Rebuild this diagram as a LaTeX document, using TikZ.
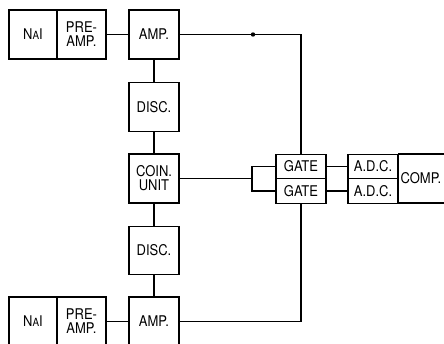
\documentclass[tikz,border=0pt]{standalone}
\usepackage{fontspec}
\setsansfont{TeX Gyre Heros}[FakeStretch=0.88]
\newcommand{\blkfont}{\sffamily\fontsize{10.5}{10}\selectfont}
\begin{document}
\begin{tikzpicture}[x=0.025cm,y=-0.025cm,line width=0.8pt,
    blk/.style={draw,minimum width=1.25cm,minimum height=1.225cm,inner sep=1pt,
      font=\blkfont,align=center},
    half/.style={draw,minimum width=1.25cm,minimum height=0.62cm,inner sep=1pt,
      font=\blkfont}]
    \useasboundingbox (0,0) rectangle (444,343);
    \clip (0,0) rectangle (444,343);
    % upper channel
    \node[blk,minimum width=1.2cm] (naiA) at (33,34.5) {N{\footnotesize A}I};
    \node[blk,minimum width=1.225cm] (preA) at (81.5,34.5) {PRE-\\AMP.};
    \node[blk] (ampA) at (154,34.5) {AMP.};
    \node[blk] (discA) at (154,107) {DISC.};
    % coincidence
    \node[blk] (coin) at (154,178.5) {COIN.\\UNIT};
    % lower channel
    \node[blk,minimum height=1.2cm] (discB) at (154,250.5) {DISC.};
    \node[blk] (ampB) at (154,321.5) {AMP.};
    \node[blk,minimum width=1.2cm] (naiB) at (33,321.5) {N{\footnotesize A}I};
    \node[blk,minimum width=1.225cm] (preB) at (81.5,321.5) {PRE-\\AMP.};
    % gates, adc, comp
    \node[half] (gateA) at (301,166.5) {GATE};
    \node[half] (gateB) at (301,191) {GATE};
    \node[half] (adcA) at (373,166.5) {A.D.C.};
    \node[half] (adcB) at (373,191) {A.D.C.};
    \node[blk,anchor=west,minimum width=1.5cm,text width=1.4cm,align=left,inner sep=0.5pt] (comp) at (398,178.5) {COMP.};
    \coordinate (fork) at (252,178.5);
    \coordinate (dot) at (253,34.5);

    \draw (preA) -- (ampA);
    \draw (preB) -- (ampB);
    \draw (ampA) -- (discA) -- (coin) -- (discB) -- (ampB);
    \draw (ampA.east) -| (gateA.north);
    \draw (ampB.east) -| (gateB.south);
    \fill (dot) circle (2.2);
    \draw (coin.east) -- (fork);
    \draw (gateA.west) -| (fork) |- (gateB.west);
    \draw (gateA) -- (adcA);
    \draw (gateB) -- (adcB);
\end{tikzpicture}
\end{document}
